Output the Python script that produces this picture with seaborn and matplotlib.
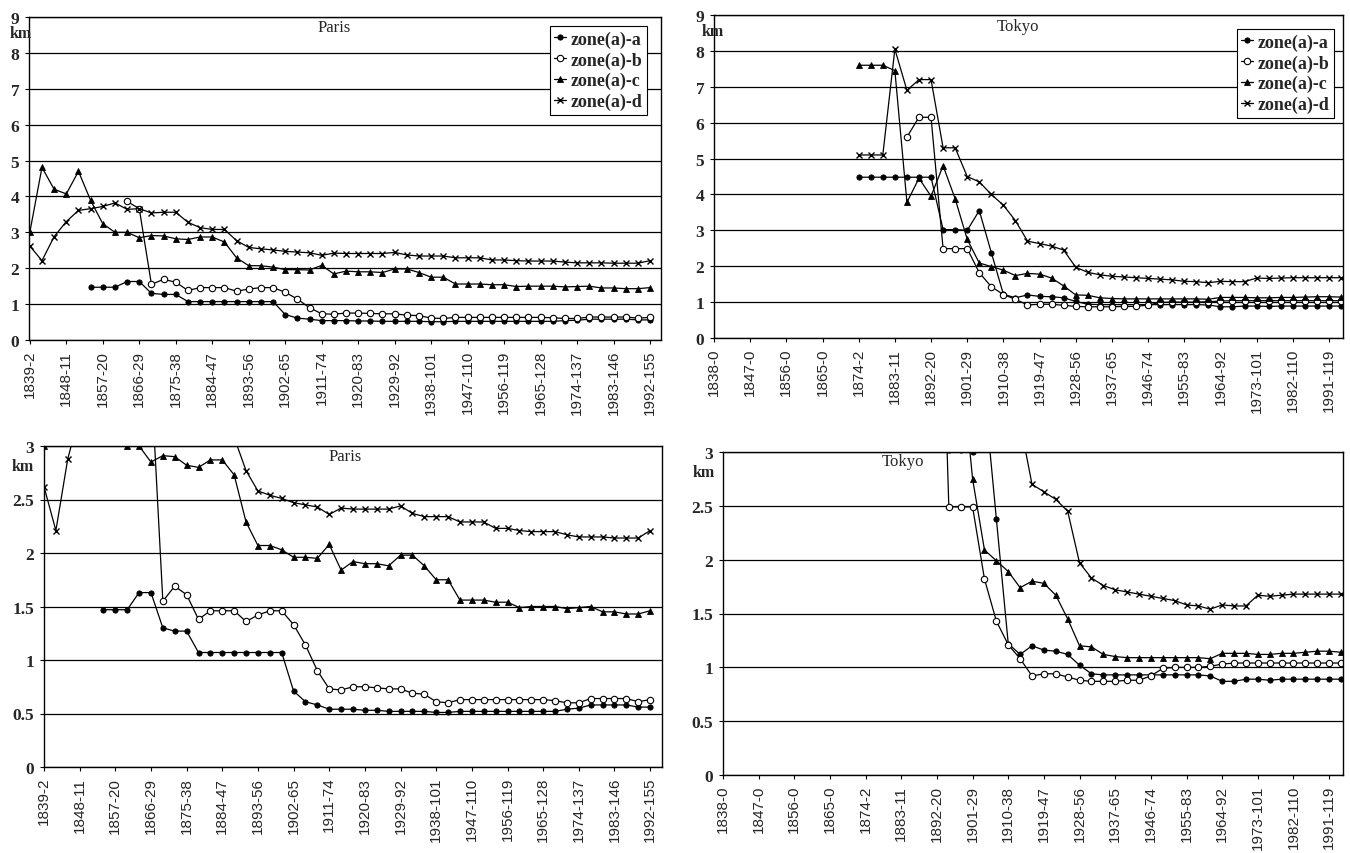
import matplotlib
matplotlib.use("Agg")
import matplotlib.pyplot as plt
import seaborn as sns
import pandas as pd
import numpy as np

# ---------------- data ----------------
paris_years = list(range(1839, 1993, 3))
tokyo_years = list(range(1874, 1995, 3))

paris_a = [None] * 5 + [1.47, 1.47, 1.47, 1.63, 1.63, 1.30, 1.27, 1.27,
           1.07, 1.07, 1.07, 1.07, 1.07, 1.07, 1.07, 1.07, 0.71, 0.61, 0.58,
           0.54, 0.54, 0.54, 0.53, 0.53, 0.52, 0.52, 0.52, 0.52, 0.51, 0.51,
           0.52, 0.52, 0.52, 0.52, 0.52, 0.52, 0.52, 0.52, 0.52, 0.54, 0.55,
           0.58, 0.58, 0.58, 0.58, 0.56, 0.56]
paris_b = [None] * 8 + [3.86, 3.66, 1.55, 1.69, 1.61, 1.38, 1.46, 1.46, 1.46,
           1.36, 1.42, 1.46, 1.46, 1.33, 1.14, 0.90,
           0.73, 0.72, 0.75, 0.75, 0.74, 0.73, 0.73, 0.69, 0.68, 0.61, 0.60,
           0.63, 0.63, 0.63, 0.63, 0.63, 0.63, 0.63, 0.63, 0.62, 0.60, 0.60,
           0.64, 0.64, 0.64, 0.64, 0.61, 0.63]
paris_c = [3.0, 4.81, 4.2, 4.07, 4.7, 3.89, 3.24, 3.0, 3.0, 2.85, 2.91, 2.90,
           2.82, 2.80, 2.87, 2.87, 2.73, 2.29, 2.07, 2.07, 2.03, 1.96, 1.96,
           1.95, 2.08,
           1.84, 1.92, 1.90, 1.90, 1.88, 1.98, 1.98, 1.88, 1.75, 1.75, 1.56,
           1.56, 1.56, 1.54, 1.54, 1.49, 1.50, 1.50, 1.50, 1.48, 1.49, 1.50,
           1.45, 1.45, 1.43, 1.43, 1.46]
paris_d = [2.62, 2.21, 2.88, 3.30, 3.61, 3.66, 3.72, 3.82, 3.64, 3.66, 3.54,
           3.56, 3.56, 3.28, 3.13, 3.08, 3.08, 2.77, 2.58, 2.54, 2.51, 2.47,
           2.45, 2.43, 2.36,
           2.42, 2.41, 2.41, 2.41, 2.41, 2.44, 2.37, 2.34, 2.34, 2.34, 2.29,
           2.29, 2.29, 2.23, 2.23, 2.21, 2.20, 2.20, 2.20, 2.17, 2.15, 2.15,
           2.15, 2.14, 2.14, 2.14, 2.21]

tokyo_a = [4.48] * 7 + [3.02, 3.02, 3.0, 3.55, 2.38, 1.22, 1.12, 1.2, 1.16,
           1.15, 1.12, 1.02, 0.94, 0.93, 0.93, 0.93, 0.93, 0.93, 0.93, 0.93,
           0.93, 0.93, 0.92, 0.87, 0.87, 0.89, 0.89, 0.88, 0.89, 0.89, 0.89,
           0.89, 0.89, 0.89]
tokyo_b = [None] * 4 + [5.6, 6.15, 6.15, 2.49, 2.49, 2.49, 1.82, 1.43, 1.21,
           1.08, 0.92, 0.94, 0.94, 0.91, 0.88, 0.87, 0.87, 0.87, 0.88, 0.88,
           0.92, 0.99, 1.0, 1.0, 1.0, 1.01, 1.03] + [1.04] * 10
tokyo_c = [7.6, 7.6, 7.6, 7.45, 3.78, 4.45, 3.95, 4.8, 3.88, 2.75, 2.09, 1.99,
           1.89, 1.74, 1.80, 1.78, 1.67, 1.45, 1.2, 1.19, 1.12, 1.10, 1.09,
           1.09, 1.09, 1.09, 1.09, 1.09, 1.09, 1.08, 1.13, 1.13, 1.13, 1.12,
           1.12, 1.13, 1.13, 1.14, 1.15, 1.15, 1.14]
tokyo_d = [5.1, 5.1, 5.1, 8.05, 6.9, 7.2, 7.2, 5.3, 5.3, 4.5, 4.35, 4.0, 3.7,
           3.27, 2.70, 2.63, 2.56, 2.45, 1.97, 1.83, 1.76, 1.72, 1.70, 1.68,
           1.66, 1.64, 1.62, 1.58, 1.57, 1.54, 1.58, 1.57, 1.57, 1.67, 1.66,
           1.67, 1.68, 1.68, 1.68, 1.68, 1.68]

zone_names = ["zone(a)-a", "zone(a)-b", "zone(a)-c", "zone(a)-d"]

paris_tick_years = [1839, 1848, 1857, 1866, 1875, 1884, 1893, 1902, 1911,
                    1920, 1929, 1938, 1947, 1956, 1965, 1974, 1983, 1992]
paris_tick_labels = ["1839-2", "1848-11", "1857-20", "1866-29", "1875-38",
                     "1884-47", "1893-56", "1902-65", "1911-74", "1920-83",
                     "1929-92", "1938-101", "1947-110", "1956-119", "1965-128",
                     "1974-137", "1983-146", "1992-155"]
tokyo_tick_years = [1838, 1847, 1856, 1865, 1874, 1883, 1892, 1901, 1910,
                    1919, 1928, 1937, 1946, 1955, 1964, 1973, 1982, 1991]
tokyo_tick_labels = ["1838-0", "1847-0", "1856-0", "1865-0", "1874-2",
                     "1883-11", "1892-20", "1901-29", "1910-38", "1919-47",
                     "1928-56", "1937-65", "1946-74", "1955-83", "1964-92",
                     "1973-101", "1982-110", "1991-119"]

top_ticks = [0, 1, 2, 3, 4, 5, 6, 7, 8, 9]
top_tick_labels = ["0", "1", "2", "3", "4", "5", "6", "7", "8", "9"]
bot_ticks = [0, 0.5, 1, 1.5, 2, 2.5, 3]
bot_tick_labels = ["0", "0.5", "1", "1.5", "2", "2.5", "3"]

# ---------------- style ----------------
sns.set_theme(style="white")
plt.rcParams["font.family"] = ["Liberation Serif", "DejaVu Serif"]
plt.rcParams["axes.edgecolor"] = "black"

W, H = 1350, 854
fig = plt.figure(figsize=(W / 100, H / 100), dpi=100)


def px_axes(left, top, right, bottom):
    return fig.add_axes([left / W, 1 - bottom / H, (right - left) / W, (bottom - top) / H])


marker_styles = [
    dict(marker="o", markersize=3.8, markerfacecolor="black", markeredgecolor="black", markeredgewidth=0.6),
    dict(marker="o", markersize=4.6, markerfacecolor="white", markeredgecolor="black", markeredgewidth=0.8),
    dict(marker="^", markersize=5.0, markerfacecolor="black", markeredgecolor="black", markeredgewidth=0.6),
    dict(marker="x", markersize=5.0, markeredgecolor="black", markeredgewidth=1.0),
]


def draw_panel(ax, years, series, xlim, yticks, ylabels, xticks, xlabels):
    for name, vals, st in zip(zone_names, series, marker_styles):
        df = pd.DataFrame({"year": years, "km": [np.nan if v is None else v for v in vals]}).dropna()
        sns.lineplot(data=df, x="year", y="km", ax=ax, color="black", linewidth=0.9,
                     errorbar=None, label=name, **st)
    ax.set_xlim(*xlim)
    ax.set_ylim(yticks[0], yticks[-1])
    ax.set_yticks(yticks)
    ax.set_yticklabels(ylabels, fontsize=12.5, fontweight="bold", family=["Liberation Serif"])
    ax.set_xticks(xticks)
    ax.set_xticklabels(xlabels, rotation=90, fontsize=11, family=["Liberation Sans"])
    ax.set_xlabel("")
    ax.set_ylabel("")
    ax.set_axisbelow(True)
    ax.yaxis.grid(True, color="black", linewidth=0.9)
    ax.xaxis.grid(False)
    ax.tick_params(axis="both", direction="out", length=3, width=0.8, color="black",
                   left=True, bottom=True, pad=4)
    for sp in ax.spines.values():
        sp.set_visible(True)
        sp.set_color("black")
        sp.set_linewidth(1.0)
    leg = ax.get_legend()
    if leg is not None:
        leg.remove()


ax_tl = px_axes(29, 18, 661, 341)
ax_tr = px_axes(714, 16, 1343, 339)
ax_bl = px_axes(44, 447, 662, 768)
ax_br = px_axes(723, 453, 1343, 776)

paris_series = [paris_a, paris_b, paris_c, paris_d]
tokyo_series = [tokyo_a, tokyo_b, tokyo_c, tokyo_d]

draw_panel(ax_tl, paris_years, paris_series, (1838.8, 1994.7), top_ticks, top_tick_labels,
           paris_tick_years, paris_tick_labels)
draw_panel(ax_tr, tokyo_years, tokyo_series, (1838, 1994.5), top_ticks, top_tick_labels,
           tokyo_tick_years, tokyo_tick_labels)
draw_panel(ax_bl, paris_years, paris_series, (1839, 1995), bot_ticks, bot_tick_labels,
           paris_tick_years, paris_tick_labels)
draw_panel(ax_br, tokyo_years, tokyo_series, (1838, 1994.5), bot_ticks, bot_tick_labels,
           tokyo_tick_years, tokyo_tick_labels)

# legends
for ax, (lx, ly) in [(ax_tl, (647, 27)), (ax_tr, (1334, 30))]:
    handles, labels = ax.get_legend_handles_labels()
    leg = ax.legend(handles, labels, loc="upper right",
                    bbox_to_anchor=(lx / W, 1 - ly / H), bbox_transform=fig.transFigure,
                    frameon=True, fancybox=False, shadow=False, framealpha=1,
                    edgecolor="black", borderpad=0.25, labelspacing=0.19,
                    handlelength=0.65, handletextpad=0.25, borderaxespad=0,
                    prop={"family": "Liberation Serif", "weight": "bold", "size": 13})
    leg.get_frame().set_linewidth(0.8)

# titles and unit labels
title_kw = dict(fontsize=12, family="Liberation Serif", ha="center", va="center")
fig.text(334 / W, 1 - 28 / H, "Paris", **title_kw)
fig.text(345 / W, 1 - 457 / H, "Paris", **title_kw)
fig.text(1018 / W, 1 - 27 / H, "Tokyo", **title_kw)
fig.text(903 / W, 1 - 462 / H, "Tokyo", **title_kw)

km_kw = dict(fontsize=11.5, fontweight="bold", family="Liberation Serif", ha="left", va="center")
fig.text(10 / W, 1 - 34 / H, "km", **km_kw)
fig.text(12 / W, 1 - 467 / H, "km", **km_kw)
fig.text(702 / W, 1 - 32 / H, "km", **km_kw)
fig.text(693 / W, 1 - 473 / H, "km", **km_kw)

fig.savefig("out.png", dpi=100, facecolor="white")
